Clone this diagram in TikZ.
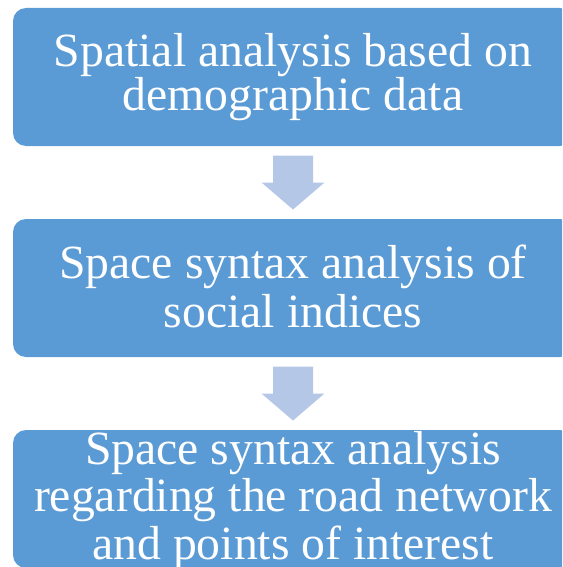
\documentclass[tikz,border=0pt]{standalone}
\usepackage{fontspec}
\setmainfont{Liberation Serif}
\usetikzlibrary{calc}
\definecolor{boxblue}{HTML}{5B9BD5}
\definecolor{arrowblue}{HTML}{B4C7E7}
\begin{document}
\begin{tikzpicture}[x=1pt,y=-1pt,
  stepbox/.style={fill=boxblue, draw=none, rounded corners=13pt,
    minimum width=560pt, minimum height=138pt, inner sep=0pt},
  lbl/.style={text=white, font=\fontsize{47.7}{50}\selectfont, inner sep=0pt, anchor=base},
  flowarrow/.style={fill=arrowblue, draw=none}]
  \useasboundingbox (0,0) rectangle (562,567);
  \clip (0,0) rectangle (562,567);

  % the three stages
  \node[stepbox] (b1) at (293,77) {};
  \node[stepbox] (b2) at (293,288) {};
  \node[stepbox] (b3) at (293,499) {};

  % stage labels
  \node[lbl] (t1a) at (293,66.5) {Spatial analysis based on};
  \node[lbl] (t1b) at (293,110.5) {demographic data};
  \node[lbl] (t2a) at (293,278.3) {Space syntax analysis of};
  \node[lbl] (t2b) at (293,327.5) {social indices};
  \node[lbl] (t3a) at (293,464) {Space syntax analysis};
  \node[lbl] (t3b) at (293,511.7) {regarding the road network};
  \node[lbl] (t3c) at (293,559) {and points of interest};

  % block arrows between consecutive stages
  \foreach \a/\b in {b1/b2, b2/b3} {
    \path (\a.south) -- (\b.north) coordinate[pos=0.5] (mid);
    \fill[flowarrow] ($(mid)+(-20,-27)$) -- ($(mid)+(20,-27)$) -- ($(mid)+(20,0)$)
      -- ($(mid)+(31.5,0)$) -- ($(mid)+(0,27)$) -- ($(mid)+(-31.5,0)$)
      -- ($(mid)+(-20,0)$) -- cycle;
  }
\end{tikzpicture}
\end{document}
